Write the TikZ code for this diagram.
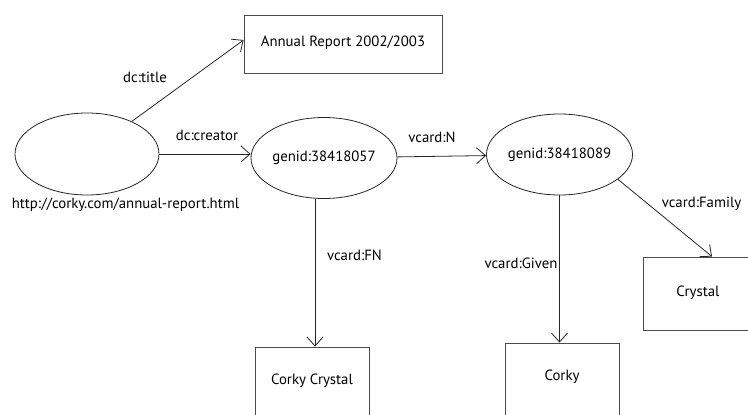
\documentclass[tikz,border=0pt]{standalone}
\usepackage{fontspec}
\setmainfont{PT Sans}
\usetikzlibrary{shapes.geometric,arrows.meta}
\begin{document}
\begin{tikzpicture}[x=1pt,y=-1pt,
  every node/.style={font=\fontsize{14.8}{17}\selectfont, text=black},
  ell/.style={draw=black!85, line width=0.8pt, ellipse, inner sep=0pt},
  box/.style={draw=black!70, line width=0.8pt, rectangle, inner sep=0pt},
  arr/.style={draw=black!85, line width=0.8pt, -{Straight Barb[length=9pt,width=16pt,line width=0.8pt]}},
  lbl/.style={inner sep=0pt}]
\useasboundingbox (0,0) rectangle (748,415);
\begin{scope}
\clip (0,0) rectangle (748,415);
\node[ell, minimum width=144pt, minimum height=82pt] (root) at (87,154) {};
\node[ell, minimum width=142pt, minimum height=81pt] (g1) at (324,158) {genid:38418057};
\node[ell, minimum width=145pt, minimum height=81pt] (g2) at (559.5,154.5) {genid:38418089};
\node[box, minimum width=198pt, minimum height=58pt, text depth=6pt] (title) at (343,44) {Annual Report 2002/2003};
\node[box, minimum width=110pt, minimum height=73pt, text depth=5pt] (crystal) at (698,293.5) {Crystal};
\node[box, minimum width=114pt, minimum height=90pt, text depth=25pt] (corky) at (562,388) {Corky};
\node[box, minimum width=114pt, minimum height=90pt, text depth=25pt] (cc) at (312,392) {Corky Crystal};

\draw[arr] (root) -- ([yshift=4pt]title.west);
\draw[arr] (root.east) -- (root.east -| g1.west);
\draw[arr] (g1) -- (g2);
\draw[arr] ([xshift=-9pt]g1.south) -- ([xshift=-9pt]g1.south |- cc.north);
\draw[arr] (g2.south) -- (g2.south |- corky.north);
\draw[arr] (g2.-23) -- ([xshift=14pt]crystal.north);

\node[lbl] (l1) at (145,77) {dc:title};
\node[lbl] (l2) at (207,135) {dc:creator};
\node[lbl] (l3) at (432,137) {vcard:N};
\node[lbl] (l4) at (701.5,204) {vcard:Family};
\node[lbl] (l5) at (521,263) {vcard:Given};
\node[lbl] (l6) at (354.5,255) {vcard:FN};
\node[lbl] (l7) at (125.5,205) {http://corky.com/annual-report.html};
\end{scope}
\end{tikzpicture}
\end{document}
